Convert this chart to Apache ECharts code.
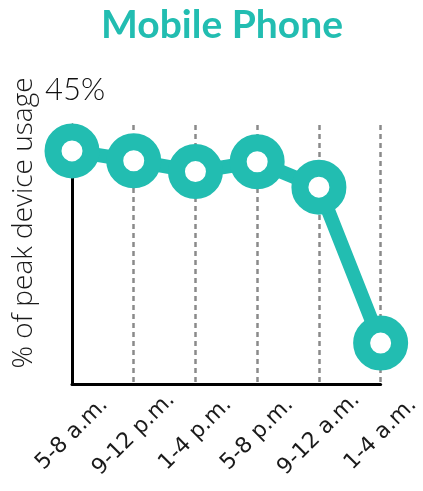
<!DOCTYPE html>
<html>
<head>
<meta charset="utf-8">
<script src="https://cdn.jsdelivr.net/npm/echarts@6/dist/echarts.min.js"></script>
<style>html,body{margin:0;padding:0;background:#fff}#c{width:423px;height:491px}</style>
</head>
<body>
<div id="c"></div>
<script>
var titleText = 'Mobile Phone';
var yAxisName = '% of peak device usage';
var categories = ['5-8 a.m.', '9-12 p.m.', '1-4 p.m.', '5-8 p.m.', '9-12 a.m.', '1-4 a.m.'];
var usage = [45, 43.1, 41.0, 42.9, 38.0, 7.9];
var yMin = 0, yMax = 50;

var teal = '#22bdb1';
var chart = echarts.init(document.getElementById('c'), null, {renderer: 'canvas'});
chart.setOption({
  animation: false,
  backgroundColor: '#fff',
  grid: {left: 72, right: 41, top: 125, bottom: 107},
  graphic: [
    {type: 'text', x: 222, y: 25, style: {text: titleText, fill: teal, font: 'bold 39px Lato', align: 'center', verticalAlign: 'middle'}},
    {type: 'text', x: 24, y: 223, rotation: Math.PI / 2, style: {text: yAxisName, fill: '#1a1a1a', font: '300 28px "Open Sans"', align: 'center', verticalAlign: 'middle'}}
  ],
  xAxis: {
    type: 'category',
    data: categories,
    boundaryGap: false,
    axisLine: {show: true, lineStyle: {color: '#000', width: 3}},
    axisTick: {show: false},
    axisLabel: {rotate: 45, align: 'center', verticalAlign: 'middle', margin: 50, color: '#1a1a1a', fontFamily: 'DejaVu Sans', fontSize: 22, interval: 0},
    splitLine: {show: true, lineStyle: {color: '#8a8a8a', width: 2.5, type: [5, 4]}}
  },
  yAxis: {
    type: 'value',
    min: yMin,
    max: yMax,
    axisLine: {show: true, lineStyle: {color: '#000', width: 3}},
    axisTick: {show: false},
    axisLabel: {show: false},
    splitLine: {show: false}
  },
  series: [{
    type: 'line',
    data: usage,
    clip: false,
    symbol: 'circle',
    symbolSize: 38,
    lineStyle: {color: teal, width: 14},
    itemStyle: {color: '#fff', borderColor: teal, borderWidth: 17},
    label: {
      show: true,
      position: 'top',
      distance: 18,
      offset: [3, 0],
      color: '#111',
      fontFamily: 'Lato',
      fontWeight: 300,
      fontSize: 31,
      formatter: function (p) { return p.dataIndex === 0 ? p.value + '%' : ''; }
    }
  }]
});
</script>
</body>
</html>
